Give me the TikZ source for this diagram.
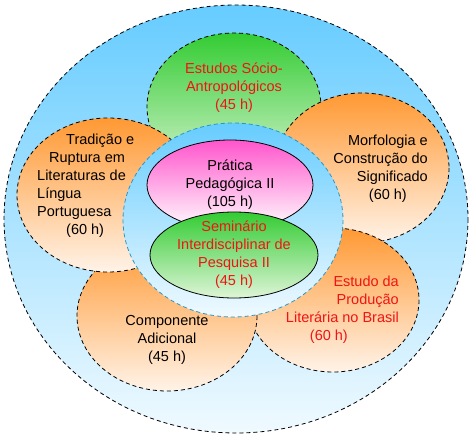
\documentclass[tikz,border=0pt]{standalone}
\usepackage{fontspec}
\setmainfont{Liberation Sans}
\usepackage{xcolor}
\usetikzlibrary{calc}

\definecolor{skyblue}{RGB}{102,204,255}
\definecolor{paleblue}{RGB}{240,250,255}
\definecolor{orangetop}{RGB}{255,153,51}
\definecolor{orangebot}{RGB}{255,243,232}
\definecolor{greentop}{RGB}{51,204,51}
\definecolor{greenbot}{RGB}{222,245,215}
\definecolor{pinktop}{RGB}{255,85,204}
\definecolor{edgeblue}{RGB}{40,150,200}
\definecolor{labelred}{RGB}{240,20,20}

\tikzset{
  petal/.style={draw=black, line width=0.8pt, dash pattern=on 4pt off 3pt},
  lbl/.style={font=\fontsize{14.5}{18}\selectfont, inner sep=0pt},
}

\begin{document}
\begin{tikzpicture}[x=1pt,y=-1pt]
\useasboundingbox (0,0) rectangle (473,438);

\shade[top color=skyblue, bottom color=paleblue] (236,219) ellipse (232 and 214); %outer
\draw[petal] (236,219) ellipse (232 and 214);

\shade[top color=greentop, bottom color=greenbot] (234,107) ellipse (87 and 74); %top
\draw[petal] (234,107) ellipse (87 and 74);
\shade[top color=orangetop, bottom color=orangebot] (362,168) ellipse (87 and 75); %right
\draw[petal] (362,168) ellipse (87 and 75);
\shade[top color=orangetop, bottom color=orangebot] (333,300) ellipse (86 and 72); %bottom right
\draw[petal] (333,300) ellipse (86 and 72);
\shade[top color=orangetop, bottom color=orangebot] (167,316) ellipse (90 and 75); %bottom left
\draw[petal] (167,316) ellipse (90 and 75);
\shade[top color=orangetop, bottom color=orangebot] (108,195) ellipse (91 and 77); %left
\draw[petal] (108,195) ellipse (91 and 77);

\shade[top color=skyblue, bottom color=paleblue] (233,220) ellipse (110 and 97); %inner
\draw[petal, draw=edgeblue] (233,220) ellipse (110 and 97);

\shade[top color=pinktop, bottom color=white] (230,185) ellipse (83 and 45);
\draw[line width=0.8pt] (230,185) ellipse (83 and 45);
\shade[top color=greentop, bottom color=greenbot] (234,255) ellipse (84 and 43);
\draw[line width=0.8pt] (234,255) ellipse (84 and 43);

\node[lbl, text=labelred, align=center] (socio) at (234,88) {Estudos Sócio-\\Antropológicos\\(45 h)};
\node[lbl, align=right, anchor=east] (morfo) at (428,168.5) {Morfologia e\\Construção do\\Significado\\(60 h)\hspace*{21pt}};
\node[lbl, text=labelred, align=right, anchor=east] (producao) at (399,309.5) {Estudo da\\Produção\\Literária no Brasil\\(60 h)\hspace*{51pt}};
\node[lbl, align=center] (adicional) at (167,340) {Componente\\Adicional\\(45 h)};
\node[lbl, align=left, anchor=west] (tradicao) at (37,186) {\hspace*{29pt}Tradição e\\\hspace*{12pt}Ruptura em\\Literaturas de\\Língua\\Portuguesa\\\hspace*{29pt}(60 h)};
\node[lbl, align=center] (pratica) at (230,185) {Prática\\Pedagógica II\\(105 h)};
\node[lbl, text=labelred, align=center] (seminario) at (234,254.5) {Seminário\\Interdisciplinar de\\Pesquisa II\\(45 h)};
\end{tikzpicture}
\end{document}
